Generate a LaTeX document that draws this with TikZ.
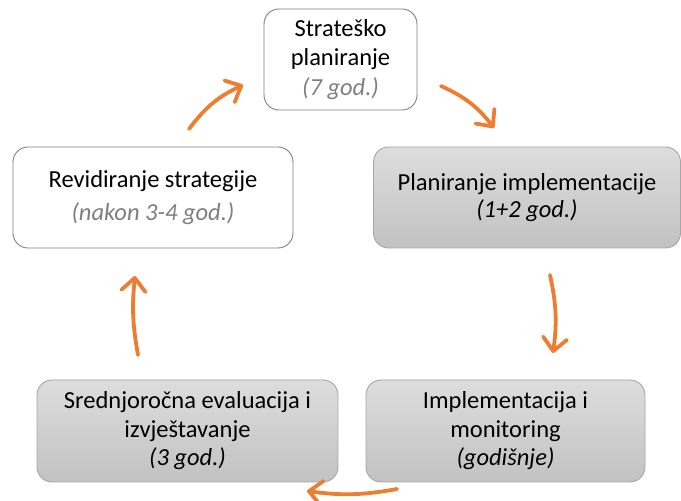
\documentclass[tikz,border=0pt]{standalone}
\usepackage{fontspec}
\setmainfont{Carlito}
\usetikzlibrary{arrows.meta}
\definecolor{cycleorange}{RGB}{237,125,49}
\definecolor{boxline}{RGB}{128,128,128}
\definecolor{grayline}{RGB}{166,166,166}
\definecolor{graytop}{RGB}{221,221,221}
\definecolor{graybot}{RGB}{194,194,194}
\definecolor{notegray}{RGB}{127,127,127}
\begin{document}
\begin{tikzpicture}[x=1pt,y=1pt,
  every node/.style={font=\fontsize{24.5}{29.5}\selectfont, align=center, inner sep=0pt},
  whitebox/.style={draw=boxline, line width=0.9pt, rounded corners=15pt, fill=white},
  graybox/.style={draw=grayline, line width=0.9pt, rounded corners=15pt,
    top color=graytop, bottom color=graybot},
  cyclearrow/.style={draw=cycleorange, line width=3.8pt, line cap=round,
    -{Straight Barb[length=13pt,width=24pt,round]}}
]
\useasboundingbox (0,0) rectangle (681,501);

% stages of the cycle
\node[whitebox, minimum width=153pt, minimum height=101pt] (plan) at (340.5,441.5)
  {Strateško\\planiranje\\{\color{notegray}\itshape (7 god.)}};
\node[graybox, minimum width=307pt, minimum height=101pt] (impl) at (527,303.5)
  {Planiranje implementacije\\[-3pt]{\itshape (1+2 god.)}};
\node[graybox, minimum width=279pt, minimum height=102pt] (mon) at (505.5,70)
  {Implementacija i\\[-1pt]monitoring\\[-1pt]{\itshape (godišnje)}};
\node[graybox, minimum width=301pt, minimum height=102pt] (eval) at (187.5,70)
  {Srednjoročna evaluacija i\\[-1pt]izvještavanje\\[-1pt]{\itshape (3 god.)}};
\node[whitebox, minimum width=280pt, minimum height=101pt] (rev) at (153,303.5)
  {Revidiranje strategije\\[4pt]{\color{notegray}\itshape (nakon 3-4 god.)}};

% arrow end points
\coordinate (a1s) at (189,372);  \coordinate (a1e) at (243,416);
\coordinate (a2s) at (441,415);  \coordinate (a2e) at (494,373);
\coordinate (a3s) at (550,226);  \coordinate (a3e) at (553,148);
\coordinate (a4s) at (397,12);   \coordinate (a4e) at (307,10);
\coordinate (a5s) at (138,146);  \coordinate (a5e) at (135,225);

% cycle arrows
\draw[cyclearrow] (a1s) to[bend left=14] (a1e);
\draw[cyclearrow] (a2s) to[bend left=14] (a2e);
\draw[cyclearrow] (a3s) to[bend left=10] (a3e);
\draw[cyclearrow] (a4s) to[bend left=9] (a4e);
\draw[cyclearrow] (a5s) to[bend left=8] (a5e);
\end{tikzpicture}
\end{document}
